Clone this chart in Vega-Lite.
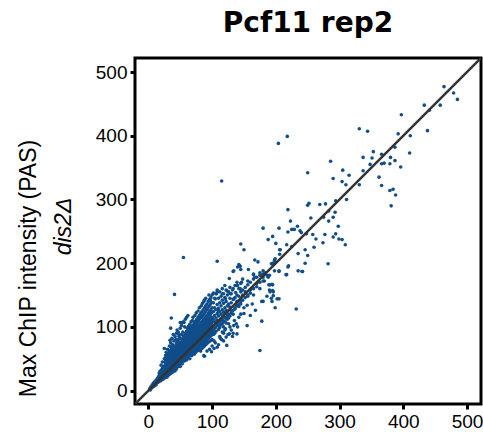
{
"$schema":"https://vega.github.io/schema/vega-lite/v6.json",
"autosize":{"type":"none"},
"padding":{"left":135,"top":58,"right":2,"bottom":35},
"width":346,"height":346,
"background":"white",
"title":{"text":"Pcf11 rep2","font":"DejaVu Sans","fontSize":28,"fontWeight":"bold","color":"black","anchor":"middle","baseline":"alphabetic","offset":-2},
"config":{"view":{"stroke":"black","strokeWidth":3},
"axis":{"grid":false,"domain":false,"labelFont":"Liberation Sans","labelFontSize":19,"labelColor":"black","tickColor":"black","tickWidth":3,"tickSize":5,"labelPadding":3,"titleFont":"Liberation Sans","titleFontWeight":"normal","titleColor":"black"}},
"datasets":{"pts":[
{"x":2,"y":3},{"x":4,"y":6},{"x":5,"y":4},{"x":6,"y":9},{"x":7,"y":8},{"x":8,"y":12},{"x":9,"y":7},{"x":10,"y":14},{"x":11,"y":10},{"x":12,"y":16},{"x":13,"y":12},{"x":14,"y":19},{"x":15,"y":13},{"x":3,"y":1},{"x":6,"y":5},{"x":9,"y":11},{"x":12,"y":9},{"x":14,"y":15},
{"x":16,"y":22},{"x":16,"y":14},{"x":17,"y":27},{"x":17,"y":18},{"x":18,"y":20},{"x":18,"y":30},{"x":19,"y":15},{"x":19,"y":24},{"x":20,"y":32},{"x":20,"y":19},{"x":21,"y":26},{"x":21,"y":17},{"x":22,"y":35},{"x":22,"y":22},{"x":23,"y":29},{"x":23,"y":18},{"x":24,"y":38},{"x":24,"y":26},{"x":25,"y":21},{"x":25,"y":31},{"x":16,"y":18},{"x":18,"y":25},{"x":20,"y":27},{"x":22,"y":28},{"x":24,"y":30},
{"x":26,"y":20},{"x":26,"y":30},{"x":26,"y":37},{"x":26,"y":45},{"x":26,"y":27},
{"x":27,"y":22},{"x":27,"y":33},{"x":27,"y":41},{"x":27,"y":28},{"x":27,"y":48},
{"x":28,"y":25},{"x":28,"y":35},{"x":28,"y":31},{"x":28,"y":44},{"x":28,"y":52},
{"x":29,"y":21},{"x":29,"y":38},{"x":29,"y":30},{"x":29,"y":46},{"x":29,"y":34},
{"x":30,"y":26},{"x":30,"y":40},{"x":30,"y":33},{"x":30,"y":49},{"x":30,"y":55},{"x":30,"y":29},
{"x":31,"y":24},{"x":31,"y":36},{"x":31,"y":43},{"x":31,"y":31},{"x":31,"y":52},
{"x":32,"y":28},{"x":32,"y":39},{"x":32,"y":47},{"x":32,"y":34},{"x":32,"y":58},{"x":32,"y":25},
{"x":33,"y":30},{"x":33,"y":42},{"x":33,"y":37},{"x":33,"y":51},{"x":33,"y":27},{"x":33,"y":62},
{"x":34,"y":26},{"x":34,"y":45},{"x":34,"y":33},{"x":34,"y":40},{"x":34,"y":55},{"x":34,"y":36},
{"x":35,"y":29},{"x":35,"y":48},{"x":35,"y":38},{"x":35,"y":60},{"x":35,"y":43},{"x":35,"y":33},
{"x":36,"y":31},{"x":36,"y":41},{"x":36,"y":52},{"x":36,"y":36},{"x":36,"y":67},{"x":36,"y":46},
{"x":37,"y":28},{"x":37,"y":44},{"x":37,"y":55},{"x":37,"y":39},{"x":37,"y":49},{"x":37,"y":34},
{"x":38,"y":33},{"x":38,"y":47},{"x":38,"y":58},{"x":38,"y":42},{"x":38,"y":63},{"x":38,"y":37},
{"x":39,"y":30},{"x":39,"y":50},{"x":39,"y":45},{"x":39,"y":54},{"x":39,"y":38},{"x":39,"y":70},
{"x":40,"y":35},{"x":40,"y":43},{"x":40,"y":52},{"x":40,"y":61},{"x":40,"y":48},{"x":40,"y":32},{"x":40,"y":57},
{"x":41,"y":34},{"x":41,"y":46},{"x":41,"y":55},{"x":41,"y":40},{"x":41,"y":66},{"x":41,"y":51},
{"x":42,"y":37},{"x":42,"y":49},{"x":42,"y":60},{"x":42,"y":44},{"x":42,"y":70},{"x":42,"y":53},{"x":42,"y":31},
{"x":43,"y":36},{"x":43,"y":52},{"x":43,"y":45},{"x":43,"y":63},{"x":43,"y":57},{"x":43,"y":41},
{"x":44,"y":39},{"x":44,"y":55},{"x":44,"y":48},{"x":44,"y":68},{"x":44,"y":61},{"x":44,"y":34},{"x":44,"y":74},
{"x":45,"y":42},{"x":45,"y":50},{"x":45,"y":58},{"x":45,"y":65},{"x":45,"y":46},{"x":45,"y":77},{"x":45,"y":37},
{"x":46,"y":40},{"x":46,"y":53},{"x":46,"y":62},{"x":46,"y":47},{"x":46,"y":71},{"x":46,"y":57},
{"x":47,"y":44},{"x":47,"y":56},{"x":47,"y":49},{"x":47,"y":66},{"x":47,"y":60},{"x":47,"y":80},{"x":47,"y":38},
{"x":48,"y":41},{"x":48,"y":59},{"x":48,"y":52},{"x":48,"y":70},{"x":48,"y":63},{"x":48,"y":46},{"x":48,"y":85},
{"x":49,"y":46},{"x":49,"y":54},{"x":49,"y":67},{"x":49,"y":60},{"x":49,"y":75},{"x":49,"y":43},
{"x":50,"y":43},{"x":50,"y":58},{"x":50,"y":51},{"x":50,"y":72},{"x":50,"y":64},{"x":50,"y":48},{"x":50,"y":82},{"x":50,"y":38},
{"x":51,"y":47},{"x":51,"y":61},{"x":51,"y":55},{"x":51,"y":69},{"x":51,"y":76},{"x":51,"y":52},
{"x":52,"y":45},{"x":52,"y":63},{"x":52,"y":57},{"x":52,"y":74},{"x":52,"y":67},{"x":52,"y":50},{"x":52,"y":88},
{"x":53,"y":49},{"x":53,"y":60},{"x":53,"y":66},{"x":53,"y":78},{"x":53,"y":54},{"x":53,"y":71},{"x":53,"y":42},
{"x":54,"y":48},{"x":54,"y":64},{"x":54,"y":58},{"x":54,"y":72},{"x":54,"y":81},{"x":54,"y":53},{"x":54,"y":92},
{"x":55,"y":52},{"x":55,"y":62},{"x":55,"y":69},{"x":55,"y":76},{"x":55,"y":57},{"x":55,"y":85},{"x":55,"y":46},
{"x":56,"y":50},{"x":56,"y":66},{"x":56,"y":60},{"x":56,"y":74},{"x":56,"y":83},{"x":56,"y":55},{"x":56,"y":70},
{"x":57,"y":53},{"x":57,"y":68},{"x":57,"y":62},{"x":57,"y":79},{"x":57,"y":87},{"x":57,"y":58},{"x":57,"y":47},
{"x":58,"y":51},{"x":58,"y":65},{"x":58,"y":73},{"x":58,"y":81},{"x":58,"y":60},{"x":58,"y":90},{"x":58,"y":56},
{"x":59,"y":55},{"x":59,"y":70},{"x":59,"y":64},{"x":59,"y":77},{"x":59,"y":86},{"x":59,"y":61},
{"x":60,"y":54},{"x":60,"y":67},{"x":60,"y":74},{"x":60,"y":82},{"x":60,"y":59},{"x":60,"y":93},{"x":60,"y":63},{"x":60,"y":48},
{"x":61,"y":56},{"x":61,"y":72},{"x":61,"y":65},{"x":61,"y":80},{"x":61,"y":89},{"x":61,"y":60},{"x":61,"y":98},
{"x":62,"y":58},{"x":62,"y":70},{"x":62,"y":77},{"x":62,"y":84},{"x":62,"y":64},{"x":62,"y":92},{"x":62,"y":52},
{"x":63,"y":55},{"x":63,"y":74},{"x":63,"y":67},{"x":63,"y":82},{"x":63,"y":90},{"x":63,"y":61},{"x":63,"y":101},
{"x":64,"y":60},{"x":64,"y":71},{"x":64,"y":79},{"x":64,"y":86},{"x":64,"y":66},{"x":64,"y":95},{"x":64,"y":57},
{"x":65,"y":58},{"x":65,"y":76},{"x":65,"y":69},{"x":65,"y":84},{"x":65,"y":93},{"x":65,"y":63},{"x":65,"y":104},{"x":65,"y":50},
{"x":66,"y":62},{"x":66,"y":73},{"x":66,"y":81},{"x":66,"y":88},{"x":66,"y":67},{"x":66,"y":98},{"x":66,"y":56},
{"x":67,"y":59},{"x":67,"y":78},{"x":67,"y":70},{"x":67,"y":86},{"x":67,"y":95},{"x":67,"y":65},{"x":67,"y":108},
{"x":68,"y":63},{"x":68,"y":75},{"x":68,"y":83},{"x":68,"y":91},{"x":68,"y":68},{"x":68,"y":100},{"x":68,"y":55},
{"x":69,"y":61},{"x":69,"y":80},{"x":69,"y":72},{"x":69,"y":88},{"x":69,"y":97},{"x":69,"y":66},{"x":69,"y":110},
{"x":70,"y":65},{"x":70,"y":77},{"x":70,"y":85},{"x":70,"y":93},{"x":70,"y":70},{"x":70,"y":103},{"x":70,"y":58},{"x":70,"y":115},
{"x":71,"y":60},{"x":71,"y":82},{"x":71,"y":74},{"x":71,"y":90},{"x":71,"y":99},{"x":71,"y":68},
{"x":72,"y":66},{"x":72,"y":79},{"x":72,"y":87},{"x":72,"y":95},{"x":72,"y":71},{"x":72,"y":106},{"x":72,"y":57},
{"x":73,"y":63},{"x":73,"y":84},{"x":73,"y":76},{"x":73,"y":92},{"x":73,"y":101},{"x":73,"y":69},{"x":73,"y":118},
{"x":74,"y":68},{"x":74,"y":81},{"x":74,"y":89},{"x":74,"y":97},{"x":74,"y":73},{"x":74,"y":109},{"x":74,"y":60},
{"x":75,"y":64},{"x":75,"y":86},{"x":75,"y":78},{"x":75,"y":94},{"x":75,"y":104},{"x":75,"y":70},{"x":75,"y":122},
{"x":76,"y":69},{"x":76,"y":83},{"x":76,"y":91},{"x":76,"y":99},{"x":76,"y":75},{"x":76,"y":112},{"x":76,"y":62},
{"x":77,"y":66},{"x":77,"y":88},{"x":77,"y":80},{"x":77,"y":96},{"x":77,"y":107},{"x":77,"y":72},
{"x":78,"y":71},{"x":78,"y":85},{"x":78,"y":93},{"x":78,"y":101},{"x":78,"y":76},{"x":78,"y":115},{"x":78,"y":63},{"x":78,"y":125},
{"x":79,"y":67},{"x":79,"y":90},{"x":79,"y":82},{"x":79,"y":98},{"x":79,"y":110},{"x":79,"y":74},
{"x":80,"y":72},{"x":80,"y":87},{"x":80,"y":95},{"x":80,"y":103},{"x":80,"y":78},{"x":80,"y":118},{"x":80,"y":65},{"x":80,"y":130},
{"x":81,"y":70},{"x":81,"y":92},{"x":81,"y":84},{"x":81,"y":100},{"x":81,"y":113},{"x":81,"y":76},
{"x":82,"y":74},{"x":82,"y":89},{"x":82,"y":97},{"x":82,"y":106},{"x":82,"y":80},{"x":82,"y":121},{"x":82,"y":62},
{"x":83,"y":71},{"x":83,"y":94},{"x":83,"y":86},{"x":83,"y":102},{"x":83,"y":115},{"x":83,"y":78},{"x":83,"y":133},
{"x":84,"y":76},{"x":84,"y":91},{"x":84,"y":99},{"x":84,"y":108},{"x":84,"y":82},{"x":84,"y":124},{"x":84,"y":66},
{"x":85,"y":73},{"x":85,"y":96},{"x":85,"y":88},{"x":85,"y":104},{"x":85,"y":118},{"x":85,"y":80},{"x":85,"y":137},
{"x":86,"y":78},{"x":86,"y":93},{"x":86,"y":101},{"x":86,"y":111},{"x":86,"y":84},{"x":86,"y":127},{"x":86,"y":68},
{"x":87,"y":75},{"x":87,"y":98},{"x":87,"y":90},{"x":87,"y":106},{"x":87,"y":120},{"x":87,"y":82},{"x":87,"y":140},
{"x":88,"y":80},{"x":88,"y":95},{"x":88,"y":103},{"x":88,"y":113},{"x":88,"y":86},{"x":88,"y":130},{"x":88,"y":70},
{"x":89,"y":77},{"x":89,"y":100},{"x":89,"y":92},{"x":89,"y":108},{"x":89,"y":123},{"x":89,"y":84},
{"x":90,"y":82},{"x":90,"y":97},{"x":90,"y":105},{"x":90,"y":116},{"x":90,"y":88},{"x":90,"y":133},{"x":90,"y":72},{"x":90,"y":145},
{"x":91,"y":79},{"x":91,"y":102},{"x":91,"y":94},{"x":91,"y":111},{"x":91,"y":126},{"x":91,"y":86},
{"x":92,"y":84},{"x":92,"y":99},{"x":92,"y":107},{"x":92,"y":118},{"x":92,"y":90},{"x":92,"y":136},{"x":92,"y":74},
{"x":93,"y":81},{"x":93,"y":104},{"x":93,"y":96},{"x":93,"y":113},{"x":93,"y":129},{"x":93,"y":88},
{"x":94,"y":86},{"x":94,"y":101},{"x":94,"y":109},{"x":94,"y":121},{"x":94,"y":92},{"x":94,"y":140},{"x":94,"y":76},
{"x":95,"y":83},{"x":95,"y":106},{"x":95,"y":98},{"x":95,"y":116},{"x":95,"y":132},{"x":95,"y":90},{"x":95,"y":150},
{"x":96,"y":88},{"x":96,"y":103},{"x":96,"y":111},{"x":96,"y":124},{"x":96,"y":94},{"x":96,"y":143},
{"x":97,"y":85},{"x":97,"y":108},{"x":97,"y":100},{"x":97,"y":119},{"x":97,"y":135},{"x":97,"y":78},
{"x":98,"y":90},{"x":98,"y":105},{"x":98,"y":113},{"x":98,"y":127},{"x":98,"y":96},{"x":98,"y":146},
{"x":99,"y":87},{"x":99,"y":110},{"x":99,"y":102},{"x":99,"y":122},{"x":99,"y":138},{"x":99,"y":92},
{"x":100,"y":92},{"x":100,"y":107},{"x":100,"y":115},{"x":100,"y":130},{"x":100,"y":98},{"x":100,"y":150},{"x":100,"y":80},
{"x":102,"y":95},{"x":102,"y":112},{"x":102,"y":124},{"x":102,"y":138},{"x":102,"y":88},
{"x":104,"y":98},{"x":104,"y":118},{"x":104,"y":130},{"x":104,"y":145},{"x":104,"y":90},{"x":104,"y":108},
{"x":106,"y":100},{"x":106,"y":114},{"x":106,"y":127},{"x":106,"y":152},{"x":106,"y":93},
{"x":108,"y":104},{"x":108,"y":121},{"x":108,"y":135},{"x":108,"y":110},{"x":108,"y":158},
{"x":110,"y":102},{"x":110,"y":117},{"x":110,"y":129},{"x":110,"y":145},{"x":110,"y":96},{"x":110,"y":125},
{"x":112,"y":107},{"x":112,"y":124},{"x":112,"y":138},{"x":112,"y":155},{"x":112,"y":99},
{"x":114,"y":110},{"x":114,"y":120},{"x":114,"y":133},{"x":114,"y":148},{"x":114,"y":103},
{"x":116,"y":112},{"x":116,"y":127},{"x":116,"y":142},{"x":116,"y":160},{"x":116,"y":105},
{"x":118,"y":109},{"x":118,"y":123},{"x":118,"y":137},{"x":118,"y":152},{"x":118,"y":100},
{"x":120,"y":115},{"x":120,"y":130},{"x":120,"y":146},{"x":120,"y":165},{"x":120,"y":108},
{"x":122,"y":113},{"x":122,"y":126},{"x":122,"y":140},{"x":122,"y":158},{"x":122,"y":106},
{"x":124,"y":118},{"x":124,"y":133},{"x":124,"y":150},{"x":124,"y":112},
{"x":126,"y":120},{"x":126,"y":136},{"x":126,"y":155},{"x":126,"y":114},
{"x":128,"y":117},{"x":128,"y":131},{"x":128,"y":145},{"x":128,"y":162},
{"x":130,"y":122},{"x":130,"y":138},{"x":130,"y":152},{"x":130,"y":125},
{"x":133,"y":126},{"x":133,"y":143},{"x":133,"y":160},{"x":133,"y":120},
{"x":136,"y":130},{"x":136,"y":146},{"x":136,"y":165},{"x":136,"y":128},
{"x":139,"y":133},{"x":139,"y":150},{"x":139,"y":140},{"x":139,"y":170},
{"x":142,"y":136},{"x":142,"y":148},{"x":142,"y":160},{"x":142,"y":132},
{"x":145,"y":140},{"x":145,"y":155},{"x":145,"y":168},{"x":145,"y":136},
{"x":148,"y":142},{"x":148,"y":158},{"x":148,"y":150},{"x":148,"y":175},
{"x":152,"y":146},{"x":152,"y":162},{"x":152,"y":155},
{"x":156,"y":150},{"x":156,"y":166},{"x":156,"y":148},{"x":156,"y":172},
{"x":160,"y":153},{"x":160,"y":170},{"x":160,"y":158},
{"x":165,"y":160},{"x":165,"y":175},{"x":165,"y":150},{"x":165,"y":182},
{"x":170,"y":163},{"x":170,"y":178},{"x":170,"y":168},
{"x":175,"y":170},{"x":175,"y":185},{"x":175,"y":160},
{"x":180,"y":172},{"x":180,"y":188},{"x":180,"y":178},
{"x":35,"y":75},{"x":37,"y":82},{"x":39,"y":88},{"x":40,"y":78},{"x":42,"y":85},{"x":44,"y":90},{"x":38,"y":72},{"x":33,"y":70},{"x":30,"y":65},{"x":28,"y":60},{"x":45,"y":95},{"x":47,"y":92},{"x":50,"y":98},{"x":52,"y":102},{"x":55,"y":108},{"x":58,"y":112},{"x":60,"y":115},{"x":62,"y":118},{"x":57,"y":100},{"x":48,"y":88},{"x":43,"y":80},{"x":36,"y":65},{"x":31,"y":58},{"x":25,"y":50},{"x":27,"y":55},{"x":22,"y":45},{"x":20,"y":40},
{"x":100,"y":70},{"x":105,"y":75},{"x":110,"y":72},{"x":112,"y":85},{"x":115,"y":80},{"x":118,"y":90},{"x":120,"y":95},{"x":125,"y":88},{"x":128,"y":100},{"x":130,"y":95},{"x":133,"y":90},{"x":108,"y":68},{"x":103,"y":78},{"x":96,"y":65},{"x":92,"y":62},{"x":118,"y":78},{"x":122,"y":84},{"x":126,"y":105},{"x":135,"y":110},{"x":138,"y":105},{"x":142,"y":115},{"x":145,"y":120},{"x":150,"y":130},{"x":140,"y":100},{"x":132,"y":85},
{"x":464,"y":477},{"x":479,"y":467},{"x":485,"y":457},{"x":433,"y":448},{"x":441,"y":440},{"x":458,"y":448},{"x":397,"y":433},{"x":438,"y":408},{"x":331,"y":411},{"x":344,"y":407},{"x":392,"y":403},{"x":411,"y":400},{"x":218,"y":399},{"x":204,"y":388},{"x":387,"y":382},{"x":410,"y":373},{"x":353,"y":375},{"x":366,"y":371},{"x":337,"y":366},{"x":351,"y":365},{"x":380,"y":366},{"x":387,"y":361},{"x":286,"y":360},{"x":348,"y":355},{"x":366,"y":356},{"x":370,"y":357},{"x":379,"y":356},{"x":396,"y":351},{"x":250,"y":342},{"x":305,"y":346},{"x":337,"y":345},{"x":315,"y":338},{"x":290,"y":333},{"x":304,"y":328},{"x":310,"y":323},{"x":362,"y":335},{"x":366,"y":322},{"x":331,"y":323},{"x":379,"y":314},{"x":384,"y":316},{"x":388,"y":307},{"x":381,"y":290},{"x":311,"y":300},{"x":294,"y":298},{"x":252,"y":294},{"x":250,"y":291},{"x":269,"y":292},{"x":278,"y":293},{"x":283,"y":282},{"x":293,"y":280},{"x":219,"y":284},{"x":255,"y":271},{"x":275,"y":272},{"x":283,"y":266},{"x":290,"y":272},{"x":223,"y":266},{"x":234,"y":258},{"x":225,"y":253},{"x":229,"y":253},{"x":238,"y":251},{"x":240,"y":248},{"x":248,"y":246},{"x":258,"y":245},{"x":205,"y":255},{"x":180,"y":255},{"x":195,"y":242},{"x":188,"y":237},{"x":219,"y":249},{"x":263,"y":238},{"x":274,"y":232},{"x":277,"y":245},{"x":294,"y":246},{"x":290,"y":241},{"x":299,"y":238},{"x":304,"y":237},{"x":298,"y":258},{"x":309,"y":229},{"x":200,"y":231},{"x":217,"y":229},{"x":225,"y":226},{"x":145,"y":230},{"x":150,"y":221},{"x":206,"y":221},{"x":206,"y":214},{"x":235,"y":215},{"x":246,"y":221},{"x":250,"y":212},{"x":260,"y":225},{"x":282,"y":199},{"x":246,"y":200},{"x":167,"y":205},{"x":172,"y":202},{"x":198,"y":205},{"x":195,"y":200},{"x":220,"y":196},{"x":219,"y":194},{"x":143,"y":196},{"x":140,"y":194},
{"x":115,"y":329},{"x":55,"y":209},{"x":108,"y":203},
{"x":235,"y":188},{"x":241,"y":187},{"x":216,"y":182},{"x":198,"y":188},{"x":205,"y":188},{"x":232,"y":128},{"x":199,"y":130},{"x":178,"y":109},{"x":190,"y":158},{"x":186,"y":148},{"x":196,"y":155},{"x":205,"y":144},{"x":193,"y":145},{"x":194,"y":140},{"x":178,"y":140},{"x":191,"y":166},{"x":195,"y":166},{"x":182,"y":172},{"x":186,"y":181},{"x":190,"y":181},{"x":188,"y":178},{"x":193,"y":199},{"x":197,"y":199},{"x":198,"y":204},
{"x":133,"y":187},{"x":145,"y":190},{"x":157,"y":190},{"x":167,"y":178},{"x":175,"y":181},{"x":180,"y":183},{"x":127,"y":176},{"x":146,"y":170},{"x":140,"y":165},{"x":132,"y":158},{"x":125,"y":155},{"x":137,"y":154},{"x":102,"y":153},{"x":107,"y":152},{"x":88,"y":142},{"x":175,"y":63},{"x":88,"y":54},{"x":99,"y":61},{"x":127,"y":89},
{"x":41,"y":151},{"x":36,"y":114},{"x":53,"y":107},{"x":50,"y":107},{"x":34,"y":79},{"x":25,"y":66},
{"x":142,"y":198},{"x":144,"y":195},{"x":134,"y":188},{"x":165,"y":183},{"x":177,"y":181},{"x":183,"y":185},{"x":194,"y":199},{"x":199,"y":207},{"x":207,"y":221},{"x":205,"y":187},{"x":217,"y":182},{"x":242,"y":187},{"x":189,"y":166},{"x":194,"y":167},{"x":195,"y":157},{"x":196,"y":149},{"x":191,"y":155},{"x":180,"y":140},{"x":168,"y":126},{"x":202,"y":144},{"x":35,"y":98},{"x":56,"y":107},{"x":108,"y":155},{"x":116,"y":152},{"x":123,"y":157},{"x":129,"y":152},{"x":139,"y":165},{"x":144,"y":160},{"x":97,"y":142},{"x":105,"y":144},{"x":121,"y":144},{"x":134,"y":144},{"x":139,"y":134},{"x":155,"y":134},{"x":163,"y":136},{"x":150,"y":121},{"x":160,"y":118},{"x":134,"y":102},{"x":155,"y":102},{"x":139,"y":89},{"x":113,"y":82},{"x":123,"y":71},{"x":103,"y":66},{"x":87,"y":55},{"x":116,"y":92},{"x":121,"y":97}
]},
"resolve":{"axis":{"y":"independent"}},
"layer":[
{"data":{"name":"pts"},
"mark":{"type":"circle","size":13,"opacity":1,"color":"#104E8B"},
"encoding":{
"x":{"field":"x","type":"quantitative","title":null,"scale":{"domain":[-21,522],"nice":false,"zero":false},"axis":{"values":[0,100,200,300,400,500]}},
"y":{"field":"y","type":"quantitative","scale":{"domain":[-21,522],"nice":false,"zero":false},"axis":{"values":[0,100,200,300,400,500],"title":"dis2Δ","titleFontStyle":"italic","titleFontSize":23,"titleAngle":-90,"titleBaseline":"alphabetic","titleAlign":"center","titleX":-65,"titleY":168}}}},
{"data":{"values":[{"x":-21,"y":-21},{"x":522,"y":522}]},
"mark":{"type":"line","color":"#333333","strokeWidth":2.5,"clip":true},
"encoding":{
"x":{"field":"x","type":"quantitative","title":null},
"y":{"field":"y","type":"quantitative","axis":{"orient":"left","labels":false,"ticks":false,"domain":false,"title":"Max ChIP intensity (PAS)","titleFontSize":23,"titleAngle":-90,"titleBaseline":"alphabetic","titleAlign":"center","titleX":-100,"titleY":210}}}}
]
}
